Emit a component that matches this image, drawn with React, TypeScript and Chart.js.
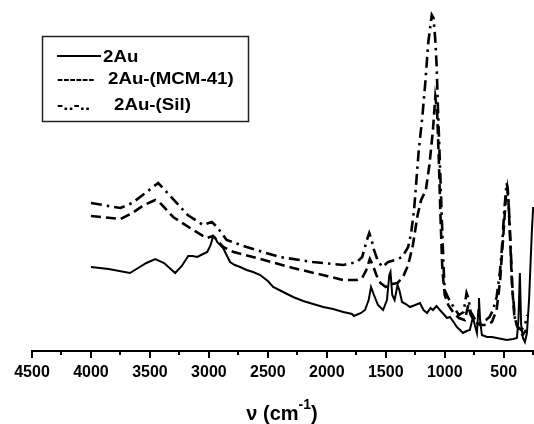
import React, { useEffect, useRef } from "react";
import { Chart, registerables } from "chart.js";

Chart.register(...registerables);

// 2Au (solid)
const auWn = [4000, 3850, 3670, 3600, 3530, 3455, 3380, 3286, 3230, 3175, 3140, 3099, 3050, 3014, 2985, 2964, 2945, 2930, 2879, 2850, 2820, 2780, 2735, 2680, 2625, 2565, 2500, 2455, 2370, 2286, 2200, 2116, 2030, 1947, 1860, 1786, 1770, 1710, 1676, 1645, 1625, 1600, 1566, 1523, 1490, 1470, 1460, 1445, 1425, 1400, 1385, 1362, 1330, 1295, 1250, 1210, 1180, 1150, 1120, 1100, 1070, 1041, 1010, 981, 956, 925, 897, 870, 846, 815, 787, 761, 745, 727, 715, 710, 700, 685, 642, 600, 558, 473, 420, 388, 375, 363, 352, 337, 320, 303, 285, 261, 250];
const auVal = [84, 82, 78, 83, 88, 92, 88, 78, 85, 95, 95, 94, 97, 99, 106, 115, 113, 109, 103, 96, 89, 86, 84, 81, 79, 76, 70, 64, 59, 54, 50, 47, 44, 42, 39, 37, 35, 38, 41, 51, 64, 56, 46, 41, 51, 76, 79, 56, 51, 66, 61, 49, 47, 44, 46, 48, 41, 38, 43, 41, 45, 41, 37, 33, 34, 29, 24, 21, 18, 20, 21, 34, 26, 18, 41, 53, 31, 16, 14, 14, 13, 11, 12, 13, 31, 78, 26, 13, 9, 18, 51, 120, 144];

// 2Au-(MCM-41) (dashed)
const mcmWn = [4000, 3750, 3650, 3550, 3455, 3420, 3303, 3133, 3020, 2964, 2879, 2790, 2565, 2286, 2000, 1860, 1744, 1700, 1665, 1635, 1610, 1580, 1545, 1500, 1450, 1400, 1350, 1310, 1270, 1230, 1200, 1160, 1130, 1100, 1080, 1065, 1050, 1035, 1020, 1000, 970, 930, 880, 830, 800, 780, 740, 700, 650, 600, 560, 530, 500, 480, 470, 460, 445, 430, 410, 390, 370, 340, 310];
const mcmVal = [135, 132, 138, 146, 151, 149, 134, 121, 113, 115, 104, 99, 92, 83, 75, 71, 71, 73, 81, 92, 86, 76, 68, 64, 67, 68, 75, 86, 106, 136, 151, 161, 186, 221, 254, 241, 191, 131, 81, 56, 46, 39, 33, 31, 46, 36, 29, 26, 26, 29, 41, 71, 121, 156, 163, 151, 111, 66, 36, 26, 21, 16, 21];

// 2Au-(Sil) (dash-dot)
const silWn = [4000, 3750, 3650, 3550, 3430, 3350, 3180, 3050, 2975, 2930, 2850, 2680, 2400, 2120, 1860, 1744, 1700, 1660, 1640, 1620, 1600, 1570, 1530, 1480, 1420, 1360, 1310, 1285, 1260, 1240, 1220, 1190, 1165, 1140, 1110, 1095, 1080, 1068, 1060, 1050, 1040, 1025, 1010, 1000, 970, 930, 880, 840, 815, 800, 780, 740, 700, 650, 620, 590, 560, 530, 510, 495, 475, 465, 455, 440, 425, 405, 380, 350, 320, 300];
const silVal = [148, 143, 148, 157, 168, 158, 136, 126, 129, 124, 111, 104, 94, 89, 86, 89, 94, 111, 118, 111, 101, 91, 84, 89, 91, 94, 104, 118, 141, 171, 201, 234, 268, 308, 336, 333, 311, 284, 251, 218, 184, 134, 84, 61, 53, 45, 36, 39, 58, 53, 39, 31, 28, 31, 34, 41, 54, 81, 111, 141, 168, 161, 141, 101, 61, 33, 24, 21, 26, 36];

const xTickValues = [500, 1000, 1500, 2000, 2500, 3000, 3500, 4000, 4500];
const seriesNames = ["2Au", "2Au-(MCM-41)", "2Au-(Sil)"];

const FONT = "'Liberation Sans', Arial, sans-serif";

const pts = (xs: number[], ys: number[]) => xs.map((x, i) => ({ x, y: ys[i] }));

const overlay = {
  id: "overlay",
  afterDraw(chart: any) {
    const ctx = chart.ctx;
    const xs = chart.scales.x;
    const bottom = chart.chartArea.bottom;
    ctx.save();
    // tick marks (major + minor)
    ctx.strokeStyle = "#000";
    ctx.lineWidth = 2;
    for (let v = 250; v <= 4500; v += 250) {
      const px = Math.round(xs.getPixelForValue(v));
      const len = v % 500 === 0 ? 7 : 4;
      ctx.beginPath();
      ctx.moveTo(px, bottom);
      ctx.lineTo(px, bottom + len);
      ctx.stroke();
    }
    // axis title with superscript
    ctx.fillStyle = "#000";
    ctx.textBaseline = "alphabetic";
    ctx.textAlign = "left";
    const main = "\u03bd (cm";
    const sup = "-1";
    const close = ")";
    ctx.font = `bold 20px ${FONT}`;
    const w1 = ctx.measureText(main).width;
    const w3 = ctx.measureText(close).width;
    ctx.font = `bold 14px ${FONT}`;
    const w2 = ctx.measureText(sup).width;
    const total = w1 + w2 + w3;
    const x0 = 282 - total / 2;
    const base = 420;
    ctx.font = `bold 20px ${FONT}`;
    ctx.fillText(main, x0, base);
    ctx.font = `bold 14px ${FONT}`;
    ctx.fillText(sup, x0 + w1, base - 11);
    ctx.font = `bold 20px ${FONT}`;
    ctx.fillText(close, x0 + w1 + w2, base);

    // legend box
    ctx.strokeStyle = "#222";
    ctx.lineWidth = 1.5;
    ctx.strokeRect(42.5, 36.5, 206, 85);
    const drawText = (s: string, x: number, y: number) => {
      ctx.save();
      ctx.translate(x, y);
      ctx.scale(1.1, 1);
      ctx.font = `bold 17px ${FONT}`;
      ctx.fillText(s, 0, 0);
      ctx.restore();
    };
    ctx.strokeStyle = "#000";
    ctx.lineWidth = 2;
    ctx.beginPath();
    ctx.moveTo(57, 56);
    ctx.lineTo(101, 56);
    ctx.stroke();
    drawText(seriesNames[0], 103, 62);
    drawText("------", 57, 84);
    drawText(seriesNames[1], 108, 84);
    drawText("-..-..", 57, 110);
    drawText(seriesNames[2], 114, 110);
    ctx.restore();
  },
};

export default function App() {
  const ref = useRef<HTMLCanvasElement | null>(null);
  useEffect(() => {
    if (!ref.current) return;
    const chart = new Chart(ref.current, {
      type: "line",
      data: {
        datasets: [
          {
            label: seriesNames[0],
            data: pts(auWn, auVal),
            borderColor: "#000",
            borderWidth: 2,
            pointRadius: 0,
            tension: 0,
          },
          {
            label: seriesNames[1],
            data: pts(mcmWn, mcmVal),
            borderColor: "#000",
            borderWidth: 2.6,
            borderDash: [10, 5],
            pointRadius: 0,
            tension: 0,
          },
          {
            label: seriesNames[2],
            data: pts(silWn, silVal),
            borderColor: "#000",
            borderWidth: 2.6,
            borderDash: [11, 5, 2.5, 5],
            pointRadius: 0,
            tension: 0,
          },
        ],
      },
      options: {
        animation: false,
        responsive: false,
        devicePixelRatio: 1,
        layout: { padding: { top: 11, left: 32, right: 0, bottom: 0 } },
        plugins: { legend: { display: false }, tooltip: { enabled: false } },
        scales: {
          x: {
            type: "linear",
            reverse: true,
            min: 243,
            max: 4500,
            afterFit: (scale: any) => {
              scale.height = 73;
            },
            afterBuildTicks: (scale: any) => {
              scale.ticks = xTickValues.map((v) => ({ value: v }));
            },
            grid: { display: false, drawTicks: false },
            border: { display: true, color: "#000", width: 2 },
            ticks: {
              autoSkip: false,
              maxRotation: 0,
              padding: 12,
              color: "#000",
              font: { family: FONT, size: 16, weight: "bold" },
              callback: (v: any) => String(v),
            },
          },
          y: { display: false, min: 0, max: 340 },
        },
      },
      plugins: [overlay],
    });
    return () => chart.destroy();
  }, []);
  return (
    <div style={{ position: "fixed", left: 0, top: 0, width: 534, height: 424, background: "#fff" }}>
      <canvas ref={ref} width={534} height={424} style={{ width: 534, height: 424 }} />
    </div>
  );
}
